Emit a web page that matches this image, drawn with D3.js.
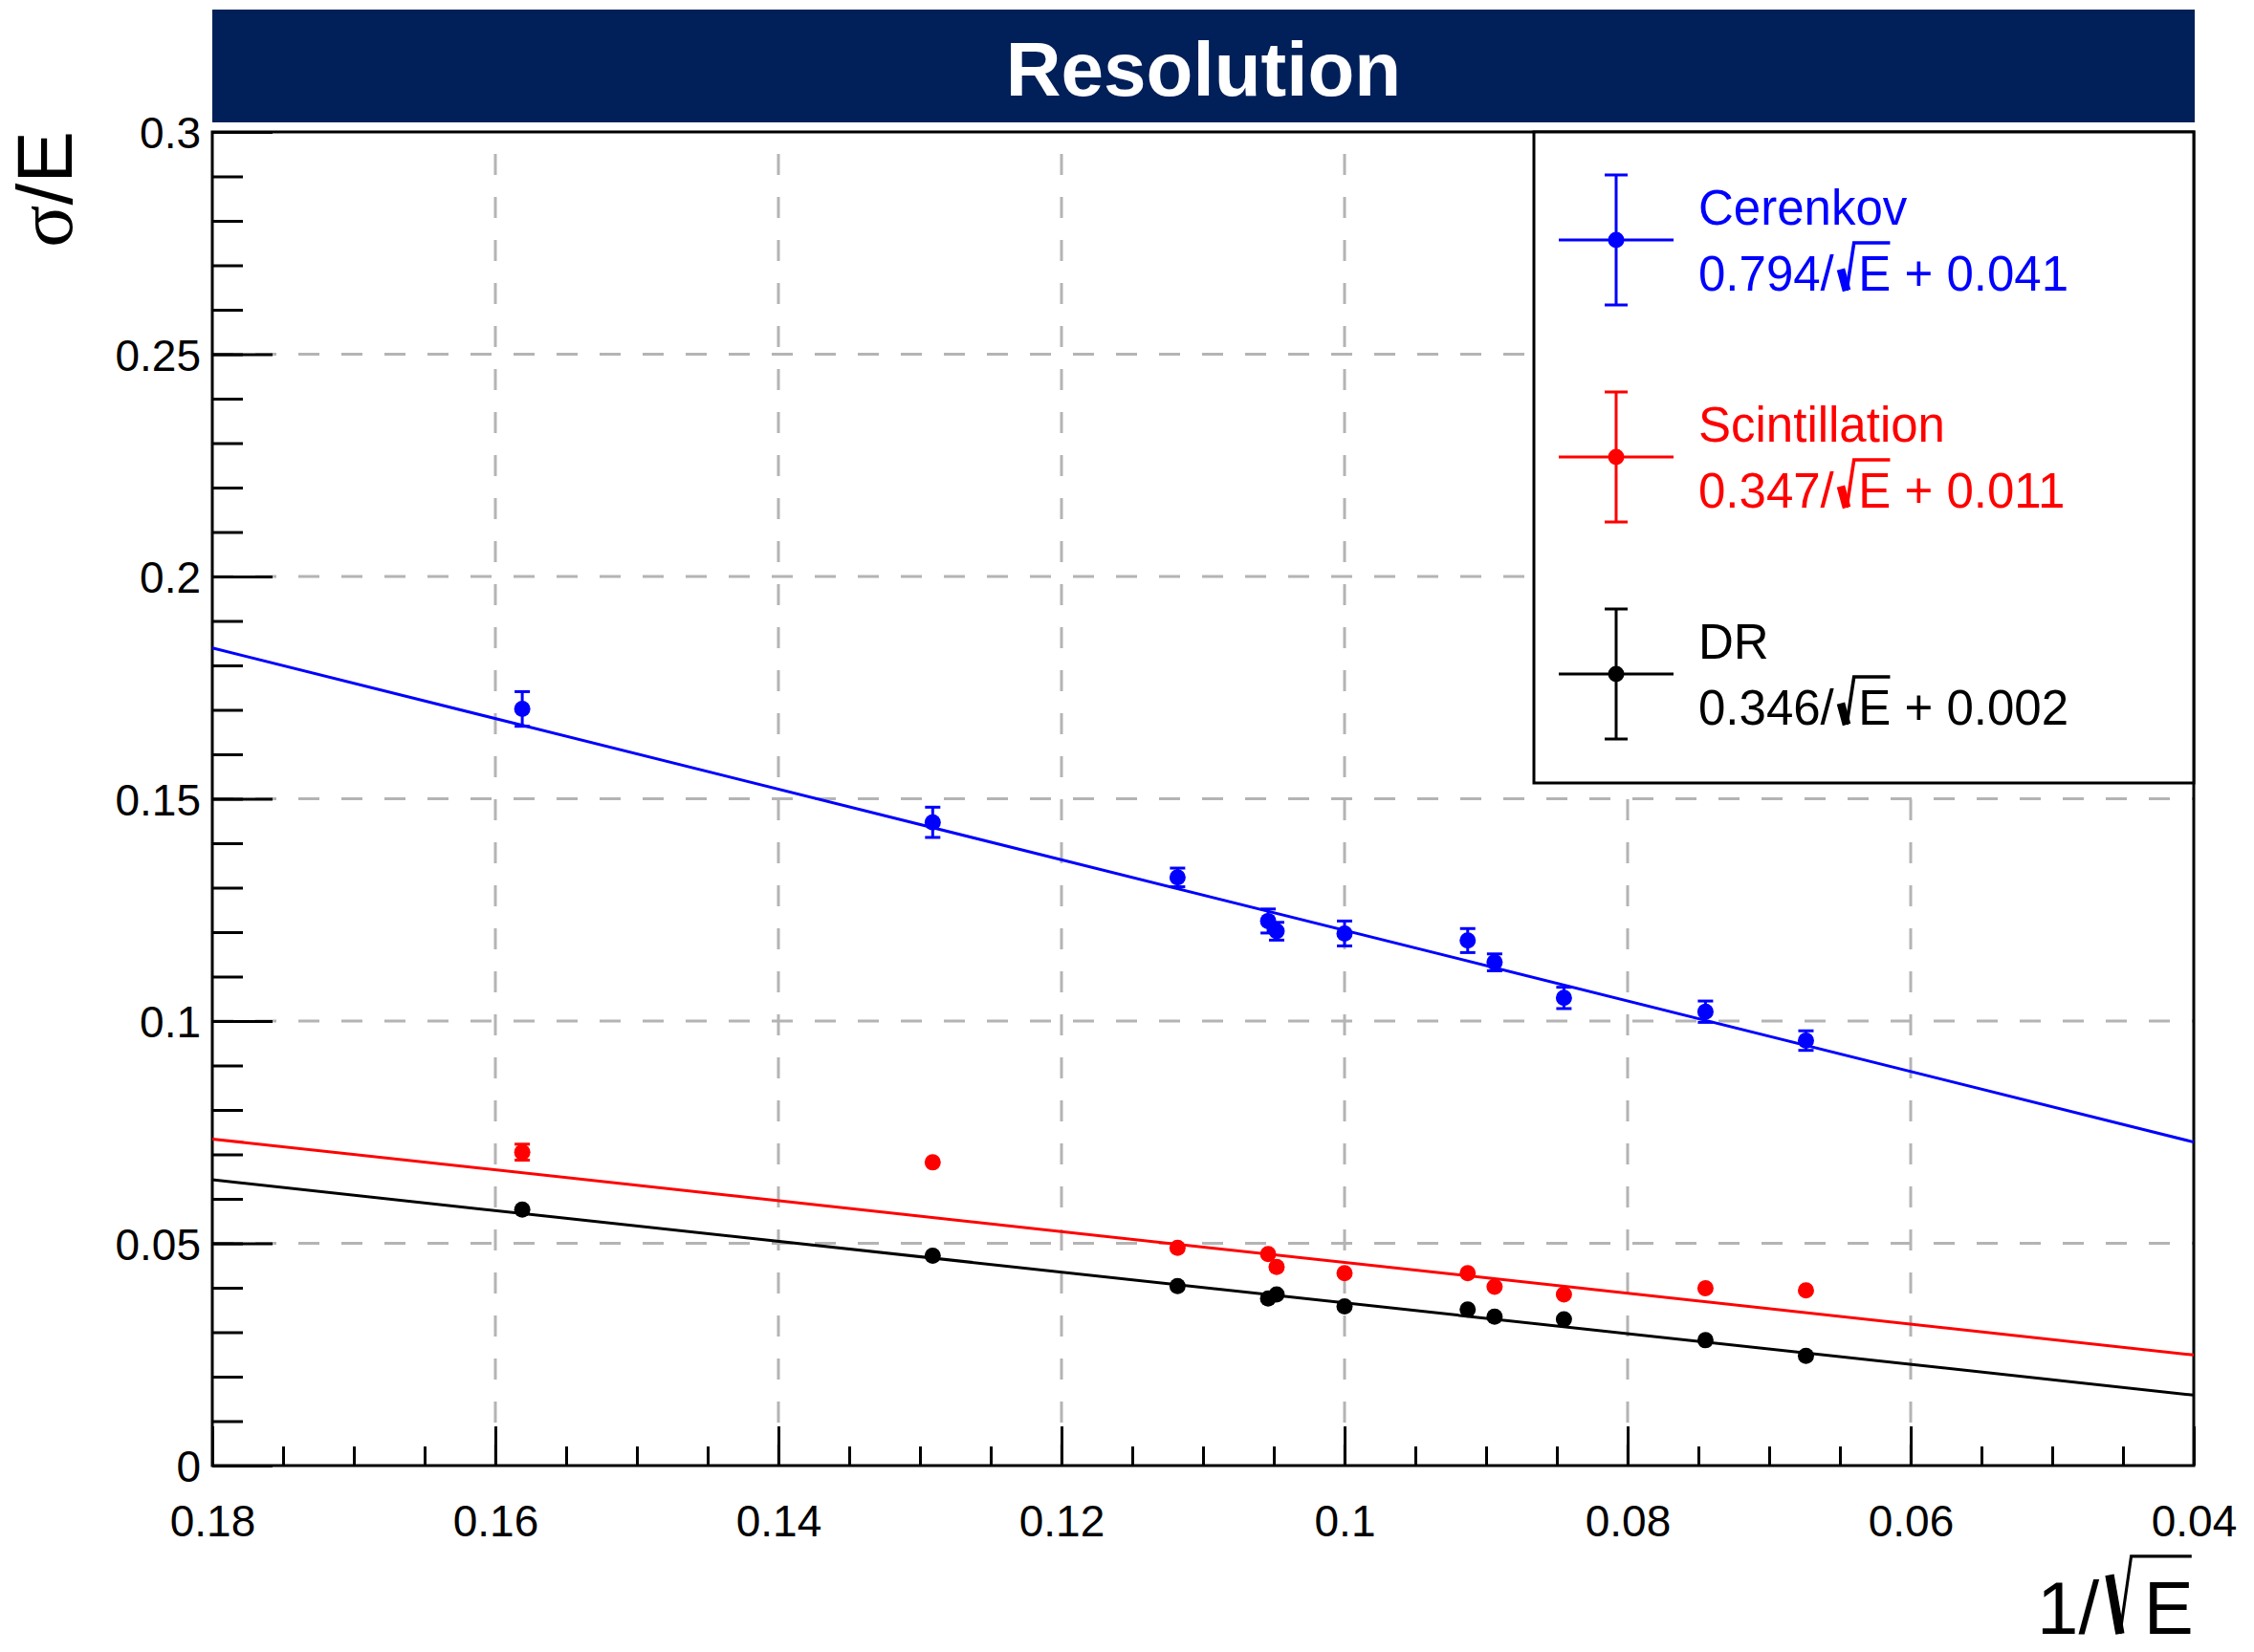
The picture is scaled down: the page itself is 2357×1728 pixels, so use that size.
<!DOCTYPE html>
<html>
<head>
<meta charset="utf-8">
<script src="https://cdn.jsdelivr.net/npm/d3@7"></script>
<style>
body { margin: 0; background: #fff; }
text { font-family: "Liberation Sans", Arial, Helvetica, sans-serif; }
</style>
</head>
<body>
<svg id="chart"></svg>
<script>
let W = 2357
let H = 1728

// 1/sqrt(E) of each run
let invSqrtE = [0.1581, 0.1291, 0.1118, 0.1054, 0.1048, 0.1000, 0.0913, 0.0894, 0.0845, 0.0745, 0.0674]
let cerenkov = [0.1702, 0.1447, 0.1323, 0.1225, 0.1202, 0.1197, 0.1181, 0.1132, 0.1052, 0.1021, 0.0956]
let cerenkovErr = [0.0039, 0.0034, 0.0021, 0.0027, 0.0020, 0.0028, 0.0027, 0.0019, 0.0024, 0.0024, 0.0022]
let scint = [0.0705, 0.0682, 0.0490, 0.0476, 0.0447, 0.0433, 0.0433, 0.0402, 0.0385, 0.0399, 0.0394]
let scintErr = [0.0018, 0.0010, 0.0009, 0.0009, 0.0008, 0.0008, 0.0008, 0.0007, 0.0007, 0.0007, 0.0007]
let dr = [0.0576, 0.0472, 0.0404, 0.0376, 0.0385, 0.0358, 0.0351, 0.0335, 0.0329, 0.0282, 0.0247]
let drErr = [0.0009, 0.0008, 0.0007, 0.0007, 0.0007, 0.0006, 0.0006, 0.0006, 0.0006, 0.0005, 0.0005]

let seriesNames = ["Cerenkov", "Scintillation", "DR"]
let seriesColors = ["#0000ff", "#ff0000", "#000000"]
let fitSlope = ["0.794", "0.347", "0.346"]
let fitConst = ["0.041", "0.011", "0.002"]

let xTicks = [0.18, 0.16, 0.14, 0.12, 0.1, 0.08, 0.06, 0.04]
let yTicks = [0, 0.05, 0.1, 0.15, 0.2, 0.25, 0.3]
let xGrid = [0.16, 0.14, 0.12, 0.1, 0.08, 0.06]
let yGrid = [0.05, 0.1, 0.15, 0.2, 0.25]

let series = [
    { vals: cerenkov, errs: cerenkovErr },
    { vals: scint, errs: scintErr },
    { vals: dr, errs: drErr }
]

let svg = d3.select("#chart")
    .attr("width", W)
    .attr("height", H)

let padL = 222, padR = 2294, padT = 138, padB = 1533

let x = d3.scaleLinear().domain([0.18, 0.04]).range([padL, padR])
let y = d3.scaleLinear().domain([0, 0.3]).range([padB, padT])

// title bar
svg.append("rect")
    .attr("x", padL).attr("y", 10)
    .attr("width", 2295 - padL).attr("height", 118)
    .attr("fill", "#012059")
svg.append("text")
    .attr("x", (padL + 2295) / 2).attr("y", 100)
    .attr("text-anchor", "middle")
    .attr("font-size", 80).attr("font-weight", "bold")
    .attr("fill", "#fff")
    .text("Resolution")

// grid
let grid = svg.append("g").attr("class", "grid")
    .attr("stroke", "#b4b4b4").attr("stroke-width", 3)
    .attr("stroke-dasharray", "22,23")
grid.selectAll(".vx")
    .data(xGrid)
    .enter()
    .append("line")
    .attr("x1", d => x(d)).attr("x2", d => x(d))
    .attr("y1", padB).attr("y2", padT)
grid.selectAll(".hy")
    .data(yGrid)
    .enter()
    .append("line")
    .attr("y1", d => y(d)).attr("y2", d => y(d))
    .attr("x1", padL).attr("x2", padR)

// axes: minor then major ticks
let xMinor = svg.append("g")
    .attr("transform", `translate(0,${padB})`)
    .call(d3.axisBottom(x).ticks(28).tickSize(-20).tickSizeOuter(0).tickFormat(""))
let xMajor = svg.append("g")
    .attr("transform", `translate(0,${padB})`)
    .call(d3.axisBottom(x).tickValues(xTicks).tickSize(-41).tickSizeOuter(0).tickFormat(d => String(d)))
let yMinor = svg.append("g")
    .attr("transform", `translate(${padL},0)`)
    .call(d3.axisLeft(y).ticks(30).tickSize(-32).tickSizeOuter(0).tickFormat(""))
let yMajor = svg.append("g")
    .attr("transform", `translate(${padL},0)`)
    .call(d3.axisLeft(y).tickValues(yTicks).tickSize(-63).tickSizeOuter(0).tickFormat(d => String(d)))

svg.selectAll(".domain").remove()
svg.selectAll(".tick line").attr("stroke", "#000").attr("stroke-width", 3)
xMajor.selectAll("text")
    .attr("y", 74).attr("dy", null)
    .attr("font-size", 46).attr("fill", "#000")
    .attr("font-family", "Liberation Sans, Arial, sans-serif")
yMajor.selectAll("text")
    .attr("x", -12).attr("dy", "0.36em")
    .attr("font-size", 46).attr("fill", "#000")
    .attr("font-family", "Liberation Sans, Arial, sans-serif")

// frame
svg.append("rect")
    .attr("x", padL).attr("y", padT)
    .attr("width", padR - padL).attr("height", padB - padT)
    .attr("fill", "none").attr("stroke", "#000").attr("stroke-width", 3)

// radical sign drawn by hand, ROOT style
function radical(g, ex, base, em, shape, color) {
    let [lx, ly, bx, tx, ty, ox, thick, thin] = shape
    g.append("line")
        .attr("x1", ex + lx * em).attr("y1", base + ly * em)
        .attr("x2", ex + bx * em).attr("y2", base)
        .attr("stroke", color).attr("stroke-width", thick * em)
    g.append("path")
        .attr("d", `M${ex + bx * em},${base} L${ex + tx * em},${base + ty * em} L${ex + ox * em},${base + ty * em}`)
        .attr("fill", "none").attr("stroke", color)
        .attr("stroke-width", thin * em).attr("stroke-linejoin", "miter")
}

// fit lines
let fits = svg.append("g").attr("class", "fits")
series.forEach((s, i) => {
    let a = +fitSlope[i], b = +fitConst[i]
    let dom = x.domain()
    fits.append("path")
        .datum(dom)
        .attr("d", d3.line().x(d => x(d)).y(d => y(a * d + b)))
        .attr("stroke", seriesColors[i])
        .attr("stroke-width", 3)
        .attr("fill", "none")
})

// points with error bars
let r = 8.5
let capW = 8
series.forEach((s, i) => {
    let g = svg.append("g").attr("fill", seriesColors[i]).attr("stroke", seriesColors[i])
    s.vals.forEach((v, k) => {
        let px = x(invSqrtE[k]), py = y(v)
        let e = y(v) - y(v + s.errs[k])
        if (e >= r - 1) {
            g.append("line")
                .attr("x1", px).attr("x2", px)
                .attr("y1", py - e).attr("y2", py + e)
                .attr("stroke-width", 3)
            g.append("line")
                .attr("x1", px - capW).attr("x2", px + capW)
                .attr("y1", py - e).attr("y2", py - e)
                .attr("stroke-width", 3)
            g.append("line")
                .attr("x1", px - capW).attr("x2", px + capW)
                .attr("y1", py + e).attr("y2", py + e)
                .attr("stroke-width", 3)
        }
    })
    g.selectAll("circle")
        .data(s.vals)
        .enter()
        .append("circle")
        .attr("cx", (d, k) => x(invSqrtE[k]))
        .attr("cy", d => y(d))
        .attr("r", r)
        .attr("stroke", "none")
})

// legend
let legend = svg.append("g").attr("class", "legend")
legend.append("rect")
    .attr("x", 1604).attr("y", padT)
    .attr("width", 2294 - 1604).attr("height", 819 - padT)
    .attr("fill", "#fff").attr("stroke", "#000").attr("stroke-width", 3)

let legFont = 51
seriesNames.forEach((name, i) => {
    let cy = 251 + i * 227
    let cx = 1690
    let col = seriesColors[i]
    let g = legend.append("g")
    g.append("line").attr("x1", cx).attr("x2", cx).attr("y1", cy - 68).attr("y2", cy + 68)
        .attr("stroke", col).attr("stroke-width", 3)
    g.append("line").attr("x1", cx - 60).attr("x2", cx + 60).attr("y1", cy).attr("y2", cy)
        .attr("stroke", col).attr("stroke-width", 3)
    g.append("line").attr("x1", cx - 12).attr("x2", cx + 12).attr("y1", cy - 68).attr("y2", cy - 68)
        .attr("stroke", col).attr("stroke-width", 3)
    g.append("line").attr("x1", cx - 12).attr("x2", cx + 12).attr("y1", cy + 68).attr("y2", cy + 68)
        .attr("stroke", col).attr("stroke-width", 3)
    g.append("circle").attr("cx", cx).attr("cy", cy).attr("r", r).attr("fill", col)

    g.append("text")
        .attr("x", 1776).attr("y", cy - 16)
        .attr("font-size", legFont).attr("fill", col)
        .text(name)
    let base = cy + 53
    let t = g.append("text")
        .attr("x", 1776).attr("y", base)
        .attr("font-size", legFont).attr("fill", col)
    t.append("tspan").text(fitSlope[i] + "/")
    t.append("tspan").attr("dx", "0.5em").text("E")
    t.append("tspan").text(" + " + fitConst[i])
    let eIdx = (fitSlope[i] + "/").length
    let ex = t.node().getStartPositionOfChar(eIdx).x
    radical(g, ex, base, legFont, [-0.36, -0.44, -0.24, -0.09, -0.98, 0.65, 0.17, 0.07], col)
})

// axis titles
let yt = svg.append("text")
    .attr("transform", "translate(75,137) rotate(-90)")
    .attr("text-anchor", "end")
    .attr("font-size", 82).attr("fill", "#000")
yt.append("tspan").attr("font-family", "Liberation Serif, Times New Roman, serif").text("σ")
yt.append("tspan").text("/E")

let xtFont = 78
let xtBase = 1709
let xt = svg.append("text")
    .attr("x", 2130).attr("y", xtBase)
    .attr("font-size", xtFont).attr("fill", "#000")
xt.append("tspan").text("1/")
xt.append("tspan").attr("dx", "0.6em").text("E")
let xtE = xt.node().getStartPositionOfChar(2).x
radical(svg.append("g"), xtE, xtBase, xtFont, [-0.46, -0.79, -0.32, -0.17, -1.04, 0.64, 0.12, 0.04], "#000")
</script>
</body>
</html>
